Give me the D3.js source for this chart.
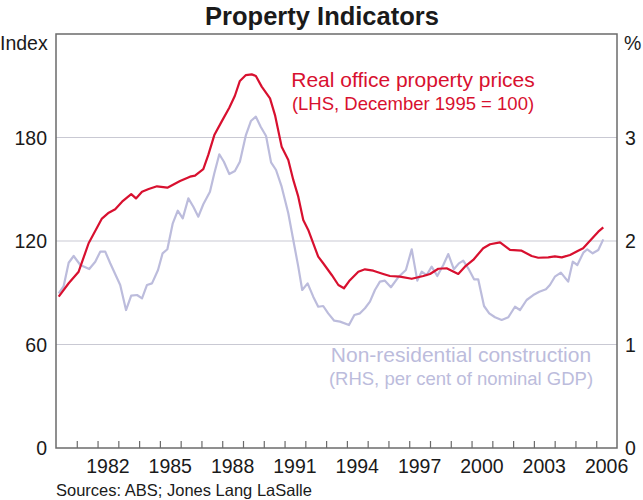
<!DOCTYPE html>
<html>
<head>
<meta charset="utf-8">
<script src="https://d3js.org/d3.v7.min.js"></script>
<style>
  body { margin: 0; background: #fff; }
  text { font-family: "Liberation Sans", Arial, sans-serif; fill: #1a1a1a; }
</style>
</head>
<body>
<script>
// Property Indicators chart

// real office property prices (LHS, index, Dec 1995 = 100)
var officeYears = [1980.13, 1980.61, 1981.09, 1981.57, 1982.21, 1982.54, 1982.85, 1983.18, 1983.62, 1983.85,
    1984.14, 1984.46, 1984.86, 1985.36, 1985.97, 1986.45, 1986.69, 1987.09, 1987.33, 1987.62,
    1987.97, 1988.34, 1988.61, 1988.85, 1989.14, 1989.42, 1989.62, 1989.90, 1990.30, 1990.54,
    1990.86, 1991.18, 1991.42, 1991.66, 1991.90, 1992.14, 1992.62, 1992.86, 1993.27, 1993.59,
    1993.86, 1994.11, 1994.55, 1994.87, 1995.27, 1995.75, 1996.07, 1996.55, 1997.12, 1997.68,
    1998.00, 1998.40, 1998.80, 1999.04, 1999.36, 1999.68, 2000.08, 2000.56, 2000.89, 2001.37,
    2001.85, 2002.41, 2002.89, 2003.21, 2003.69, 2004.01, 2004.34, 2004.74, 2005.13, 2005.37,
    2005.70, 2006.10, 2006.34];
var officeIndex = [87.7, 95.5, 102.2, 118.7, 133.0, 136.4, 138.4, 142.8, 147.2, 144.7,
    148.6, 150.1, 151.7, 150.9, 154.8, 157.3, 157.9, 161.7, 169.9, 181.4,
    189.2, 197.3, 204.2, 212.8, 216.2, 216.6, 215.7, 209.5, 202.7, 193.0,
    174.7, 167.0, 155.4, 145.7, 132.2, 126.4, 110.9, 107.1, 100.3, 94.5,
    92.6, 96.8, 102.2, 103.6, 102.8, 100.9, 99.7, 99.3, 98.1, 99.7,
    100.9, 103.9, 104.2, 102.8, 100.9, 105.1, 109.0, 115.8, 118.1, 119.2,
    114.8, 114.4, 111.3, 110.3, 110.5, 111.1, 110.5, 111.9, 114.4, 115.8,
    120.2, 125.4, 127.9];

// non-residential construction (RHS, per cent of nominal GDP), quarterly
var constrYears = [1980.13, 1980.37, 1980.61, 1980.85, 1981.17, 1981.60, 1981.89, 1982.13, 1982.37, 1982.61,
    1983.09, 1983.37, 1983.62, 1983.90, 1984.14, 1984.38, 1984.62, 1984.91, 1985.13, 1985.36,
    1985.62, 1985.86, 1986.10, 1986.37, 1986.61, 1986.85, 1987.09, 1987.41, 1987.62, 1987.86,
    1988.08, 1988.34, 1988.61, 1988.85, 1989.14, 1989.38, 1989.62, 1989.85, 1990.11, 1990.35,
    1990.59, 1990.86, 1991.18, 1991.42, 1991.66, 1991.85, 1992.11, 1992.38, 1992.62, 1992.86,
    1993.10, 1993.39, 1993.67, 1994.10, 1994.36, 1994.63, 1994.87, 1995.11, 1995.35, 1995.59,
    1995.83, 1996.12, 1996.47, 1996.84, 1997.12, 1997.39, 1997.60, 1997.84, 1998.08, 1998.35,
    1998.64, 1998.88, 1999.15, 1999.39, 1999.60, 1999.84, 2000.12, 2000.32, 2000.60, 2000.85,
    2001.13, 2001.45, 2001.77, 2002.09, 2002.33, 2002.65, 2002.97, 2003.26, 2003.58, 2003.77,
    2004.01, 2004.30, 2004.65, 2004.87, 2005.09, 2005.38, 2005.57, 2005.83, 2006.10, 2006.34];
var constrPct = [1.495, 1.565, 1.79, 1.855, 1.768, 1.729, 1.80, 1.897, 1.897, 1.785,
    1.575, 1.333, 1.472, 1.478, 1.446, 1.575, 1.591, 1.72, 1.881, 1.92,
    2.171, 2.293, 2.219, 2.412, 2.331, 2.235, 2.355, 2.476, 2.654, 2.838,
    2.766, 2.647, 2.676, 2.766, 3.024, 3.159, 3.201, 3.104, 3.014, 2.76,
    2.686, 2.525, 2.268, 2.01, 1.752, 1.527, 1.591, 1.462, 1.365, 1.372,
    1.301, 1.23, 1.221, 1.188, 1.285, 1.301, 1.35, 1.414, 1.527, 1.607,
    1.617, 1.553, 1.649, 1.72, 1.92, 1.617, 1.704, 1.671, 1.752, 1.662,
    1.768, 1.874, 1.727, 1.784, 1.81, 1.736, 1.63, 1.63, 1.372, 1.301,
    1.263, 1.237, 1.263, 1.365, 1.333, 1.43, 1.478, 1.51, 1.533, 1.575,
    1.655, 1.694, 1.607, 1.80, 1.768, 1.887, 1.92, 1.881, 1.913, 2.016];

var leftTicks = [0, 60, 120, 180];
var rightTicks = [0, 1, 2, 3];
var yearTicks = d3.range(1981, 2007);
var yearLabels = [1982, 1985, 1988, 1991, 1994, 1997, 2000, 2003, 2006];

window.onload = function(){
    var w = 643, h = 500;
    var left = 56, right = 617, top = 34, bottom = 448;

    var svg = d3.select("body").append("svg")
        .attr("width", w)
        .attr("height", h);

    var x = d3.scaleLinear().domain([1980, 2007]).range([left, right]);
    var yL = d3.scaleLinear().domain([0, 240]).range([bottom, top]);
    var yR = d3.scaleLinear().domain([0, 4]).range([bottom, top]);

    //horizontal grid lines
    svg.selectAll(".grid")
        .data(leftTicks.slice(1))
        .enter()
        .append("line")
        .attr("x1", left).attr("x2", right)
        .attr("y1", function(d){ return yL(d); })
        .attr("y2", function(d){ return yL(d); })
        .style("stroke", "#c9c9d3")
        .style("stroke-width", 1.2);

    //construction line (right axis)
    var constrData = constrYears.map(function(d, i){ return {year: d, v: constrPct[i]}; });
    svg.append("path")
        .datum(constrData)
        .attr("d", d3.line()
            .x(function(d){ return x(d.year); })
            .y(function(d){ return yR(d.v); }))
        .style("fill", "none")
        .style("stroke", "#bcbcdc")
        .style("stroke-width", 2.2)
        .style("stroke-linejoin", "round");

    //office prices line (left axis)
    var officeData = officeYears.map(function(d, i){ return {year: d, v: officeIndex[i]}; });
    svg.append("path")
        .datum(officeData)
        .attr("d", d3.line()
            .x(function(d){ return x(d.year); })
            .y(function(d){ return yL(d.v); }))
        .style("fill", "none")
        .style("stroke", "#d8102f")
        .style("stroke-width", 2.2)
        .style("stroke-linejoin", "round");

    //frame
    svg.append("rect")
        .attr("x", left).attr("y", top)
        .attr("width", right - left).attr("height", bottom - top)
        .style("fill", "none")
        .style("stroke", "#6b6b6b")
        .style("stroke-width", 1.5);

    //bottom axis: year ticks pointing up, labels mid-year
    var xAxis = d3.axisBottom(x)
        .tickValues(yearTicks)
        .tickSize(-7)
        .tickFormat("");
    var gx = svg.append("g")
        .attr("transform", "translate(0," + bottom + ")")
        .call(xAxis);
    gx.select(".domain").remove();
    gx.selectAll("line").style("stroke", "#6b6b6b").style("stroke-width", 1.2);

    svg.selectAll(".yearLabel")
        .data(yearLabels)
        .enter()
        .append("text")
        .attr("class", "yearLabel")
        .attr("x", function(d){ return x(d + 0.5); })
        .attr("y", 473)
        .attr("text-anchor", "middle")
        .style("font-size", "19.5px")
        .text(function(d){ return d; });

    //left tick labels
    svg.selectAll(".leftLabel")
        .data(leftTicks)
        .enter()
        .append("text")
        .attr("x", 47)
        .attr("y", function(d){ return yL(d) + 7; })
        .attr("text-anchor", "end")
        .style("font-size", "19.5px")
        .text(function(d){ return d; });

    //right tick labels
    svg.selectAll(".rightLabel")
        .data(rightTicks)
        .enter()
        .append("text")
        .attr("x", 625)
        .attr("y", function(d){ return yR(d) + 7; })
        .attr("text-anchor", "start")
        .style("font-size", "19.5px")
        .text(function(d){ return d; });

    //units
    svg.append("text").attr("x", 0).attr("y", 50)
        .style("font-size", "19.5px").text("Index");
    svg.append("text").attr("x", 624).attr("y", 50)
        .style("font-size", "19.5px").text("%");

    //title
    svg.append("text")
        .attr("x", 322).attr("y", 25)
        .attr("text-anchor", "middle")
        .style("font-size", "25.5px")
        .style("font-weight", "bold")
        .text("Property Indicators");

    //series labels
    svg.append("text")
        .attr("x", 413).attr("y", 87)
        .attr("text-anchor", "middle")
        .style("font-size", "21px")
        .style("fill", "#d8102f")
        .text("Real office property prices");
    svg.append("text")
        .attr("x", 413).attr("y", 110)
        .attr("text-anchor", "middle")
        .style("font-size", "18.5px")
        .style("fill", "#d8102f")
        .text("(LHS, December 1995 = 100)");

    svg.append("text")
        .attr("x", 461).attr("y", 362)
        .attr("text-anchor", "middle")
        .style("font-size", "21px")
        .style("fill", "#bcbcdc")
        .text("Non-residential construction");
    svg.append("text")
        .attr("x", 461).attr("y", 385)
        .attr("text-anchor", "middle")
        .style("font-size", "18.5px")
        .style("fill", "#bcbcdc")
        .text("(RHS, per cent of nominal GDP)");

    //source note
    svg.append("text")
        .attr("x", 56).attr("y", 496)
        .style("font-size", "16.5px")
        .text("Sources: ABS; Jones Lang LaSalle");
};
</script>
</body>
</html>
